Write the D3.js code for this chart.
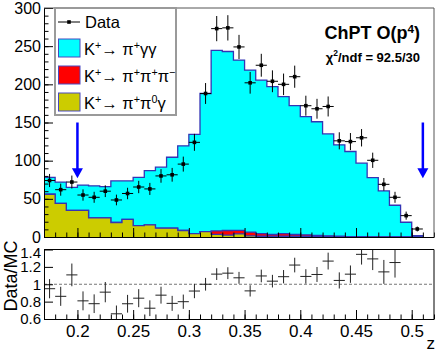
<!DOCTYPE html>
<html>
<head>
<meta charset="utf-8">
<script src="https://cdn.jsdelivr.net/npm/d3@7"></script>
<style>
body { margin: 0; background: #fff; }
svg { display: block; font-family: "Liberation Sans", Arial, Helvetica, sans-serif; }
</style>
</head>
<body>
<svg id="chart" width="436" height="358"></svg>
<script>
// bin lower edges in z (bin width 0.01)
var zLow = [0.17, 0.18, 0.19, 0.20, 0.21, 0.22, 0.23, 0.24, 0.25, 0.26,
            0.27, 0.28, 0.29, 0.30, 0.31, 0.32, 0.33, 0.34, 0.35, 0.36,
            0.37, 0.38, 0.39, 0.40, 0.41, 0.42, 0.43, 0.44, 0.45, 0.46,
            0.47, 0.48, 0.49, 0.50];
var binW = 0.01;

// MC components (events per bin)
var mcGG = [22, 28, 30, 33, 42, 41, 54.5, 50.5, 63, 71,
            80, 93, 111, 130, 181, 236.6, 234.5, 223, 212.4, 201,
            193.5, 179.5, 168.5, 155, 149, 133.5, 119.7, 111.4, 96.2, 77.4,
            60, 41.4, 19.1, 1.7];
var mc3Pi = [0, 0, 0, 0, 0, 0, 0, 0, 0, 0,
             0, 0, 0, 0, 0, 4.4, 6, 4.8, 4.8, 3.4,
             2.5, 3.5, 2.5, 2, 1.5, 1, 0.5, 0.3, 0.2, 0.2,
             0.2, 0.1, 0.1, 0];
var mcPi0G = [56, 44, 35, 35, 25, 25, 19, 23, 15, 16,
              11.5, 11.5, 8.5, 4.5, 7, 3.5, 2.5, 4, 1.5, 1,
              1, 1, 1, 0.8, 0.5, 0.5, 0.5, 0.3, 0.3, 0.2,
              0.2, 0.1, 0.1, 0];

// data
var dataN = [74, 62, 72, 55, 52, 60, 48.5, 57, 65.5, 63,
             80, 81.5, 95.5, 124, 188, 273, 274, 249, 202, 225,
             204, 200, 210, 172, 168, 171, 126, 125, 130, 100.5,
             69, 52, 28, 10.5];
var dataErr = [8.6, 7.9, 8.5, 7.4, 7.2, 7.7, 7, 7.5, 8.1, 7.9,
               8.9, 9, 9.8, 11.1, 13.7, 16.5, 16.6, 15.8, 14.2, 15,
               14.3, 14.1, 14.5, 13.1, 13, 13.1, 11.2, 11.2, 11.4, 10,
               8.3, 7.2, 5.3, 3.2];

var cuts = [0.2, 0.51];
var zTicks = [0.2, 0.25, 0.3, 0.35, 0.4, 0.45, 0.5];
var yTopTicks = [0, 50, 100, 150, 200, 250, 300];
var ratioTicks = [0.6, 0.8, 1, 1.2, 1.4];

var svg = d3.select('#chart');

var x = d3.scaleLinear().domain([0.17, 0.52]).range([44, 434]),
    yTop = d3.scaleLinear().domain([0, 300]).range([237, 8]),
    yRat = d3.scaleLinear().domain([0.6, 1.4]).range([319, 249.5]);

var lineCol = '#3434b4';

// stacked sums
var sumLow = mcPi0G.slice(),
    sumMid = mcPi0G.map(function(v, i) { return v + mc3Pi[i]; }),
    sumAll = sumMid.map(function(v, i) { return v + mcGG[i]; });

function stepPoints(vals) {
    var pts = [[x(zLow[0]), yTop(0)]];
    vals.forEach(function(v, i) {
        pts.push([x(zLow[i]), yTop(v)], [x(zLow[i] + binW), yTop(v)]);
    });
    pts.push([x(zLow[zLow.length - 1] + binW), yTop(0)]);
    return pts;
}

var defs = svg.append('defs');
defs.append('clipPath').attr('id', 'clipTop')
    .append('rect').attr('x', 44).attr('y', 8).attr('width', 390).attr('height', 229);
defs.append('clipPath').attr('id', 'clipRat')
    .append('rect').attr('x', 44).attr('y', 249.5).attr('width', 390).attr('height', 69.5);

// ---------- top pad ----------
var gTop = svg.append('g').attr('clip-path', 'url(#clipTop)');
var line = d3.line();

[[sumAll, '#00ffff'], [sumMid, '#ff0000'], [sumLow, '#cccc00']].forEach(function(h) {
    var pts = stepPoints(h[0]);
    gTop.append('path')
        .attr('d', line(pts) + 'Z')
        .attr('fill', h[1])
        .attr('stroke', 'none');
    gTop.append('path')
        .attr('d', line(pts))
        .attr('fill', 'none')
        .attr('stroke', lineCol)
        .attr('stroke-width', 1.3);
});

// data points
var gData = gTop.append('g').attr('class', 'data');
dataN.forEach(function(v, i) {
    var xc = x(zLow[i] + binW / 2);
    gData.append('line')
        .attr('x1', xc).attr('x2', xc)
        .attr('y1', yTop(v - dataErr[i])).attr('y2', yTop(v + dataErr[i]))
        .attr('stroke', '#000').attr('stroke-width', 1);
    gData.append('line')
        .attr('x1', x(zLow[i])).attr('x2', x(zLow[i] + binW))
        .attr('y1', yTop(v)).attr('y2', yTop(v))
        .attr('stroke', '#000').attr('stroke-width', 1);
    gData.append('rect')
        .attr('x', xc - 1.8).attr('y', yTop(v) - 1.8)
        .attr('width', 3.6).attr('height', 3.6)
        .attr('fill', '#000');
});

// cut arrows
cuts.forEach(function(c) {
    var xc = x(c), y0 = yTop(150), y1 = yTop(77);
    svg.append('line')
        .attr('x1', xc).attr('x2', xc)
        .attr('y1', y0).attr('y2', y1 - 8)
        .attr('stroke', '#0000ff').attr('stroke-width', 2.5);
    svg.append('path')
        .attr('d', 'M' + (xc - 5.5) + ',' + (y1 - 10) + 'L' + (xc + 5.5) + ',' + (y1 - 10) + 'L' + xc + ',' + y1 + 'Z')
        .attr('fill', '#0000ff');
});

function styleAxis(g, size) {
    g.attr('font-family', null).attr('font-size', size);
    g.selectAll('text').attr('fill', '#000');
    g.selectAll('line').attr('stroke', '#000');
}

// top axes
var gx = svg.append('g').attr('transform', 'translate(0,237)')
    .call(d3.axisBottom(x).tickValues(zTicks).tickSize(-9).tickSizeOuter(0).tickFormat(''));
gx.select('.domain').attr('stroke', '#000');
svg.append('g').attr('transform', 'translate(0,237)')
    .call(d3.axisBottom(x).ticks(35).tickSize(-4.5).tickFormat(''))
    .select('.domain').remove();

var gy = svg.append('g').attr('transform', 'translate(44,0)')
    .call(d3.axisLeft(yTop).tickValues(yTopTicks).tickSize(-9).tickSizeOuter(0).tickPadding(3));
styleAxis(gy, 16);
svg.append('g').attr('transform', 'translate(44,0)')
    .call(d3.axisLeft(yTop).ticks(30).tickSize(-4.5).tickFormat(''))
    .select('.domain').remove();

// frame top/right
svg.append('path')
    .attr('d', 'M44,8H434V237')
    .attr('fill', 'none').attr('stroke', '#555').attr('stroke-width', 1);

// legend
var leg = svg.append('g');
leg.append('rect')
    .attr('x', 55).attr('y', 8).attr('width', 121).attr('height', 107)
    .attr('fill', '#fff').attr('stroke', '#9a9a9a').attr('stroke-width', 2);

// text with superscripts: parts = [[text, isSup], ...]
function richText(g, parts, size) {
    var shift = 0;
    parts.forEach(function(p) {
        var ts = g.append('tspan');
        if (p[1]) {
            ts.attr('dy', -6 - shift).attr('font-size', size * 0.65);
            shift = -6;
        } else {
            ts.attr('dy', -shift).attr('font-size', size);
            shift = 0;
        }
        ts.text(p[0]);
    });
}

leg.append('line').attr('x1', 58).attr('x2', 80).attr('y1', 22).attr('y2', 22)
    .attr('stroke', '#000').attr('stroke-width', 1);
leg.append('rect').attr('x', 67.2).attr('y', 20.2).attr('width', 3.6).attr('height', 3.6).attr('fill', '#000');
leg.append('text').attr('x', 85).attr('y', 27.5).attr('font-size', 16.5).text('Data');

var legEntries = [
    {fill: '#00ffff', y: 48, label: [['K'], ['+', 1], ['\u2192 \u03c0'], ['+', 1], ['\u03b3\u03b3']]},
    {fill: '#ff0000', y: 75, label: [['K'], ['+', 1], ['\u2192 \u03c0'], ['+', 1], ['\u03c0'], ['+', 1], ['\u03c0'], ['\u2212', 1]]},
    {fill: '#cccc00', y: 102, label: [['K'], ['+', 1], ['\u2192 \u03c0'], ['+', 1], ['\u03c0'], ['0', 1], ['\u03b3']]}
];
legEntries.forEach(function(e) {
    leg.append('rect')
        .attr('x', 58.5).attr('y', e.y - 9).attr('width', 21.5).attr('height', 18)
        .attr('fill', e.fill).attr('stroke', '#4848c0').attr('stroke-width', 1);
    var t = leg.append('text').attr('x', 84).attr('y', e.y + 6.5);
    richText(t, e.label, 16.5);
});

// model label
var t1 = svg.append('text').attr('x', 420).attr('y', 39).attr('text-anchor', 'end')
    .attr('font-weight', 'bold');
richText(t1, [['ChPT O(p'], ['4', 1], [')']], 18);
var t2 = svg.append('text').attr('x', 420).attr('y', 62).attr('text-anchor', 'end')
    .attr('font-weight', 'bold');
richText(t2, [['\u03c7'], ['2', 1], ['/ndf = 92.5/30']], 13);

// ---------- ratio pad ----------
var gRat = svg.append('g').attr('clip-path', 'url(#clipRat)');
gRat.append('line')
    .attr('x1', 44).attr('x2', 434).attr('y1', yRat(1)).attr('y2', yRat(1))
    .attr('stroke', '#777').attr('stroke-width', 1).attr('stroke-dasharray', '3,2');

dataN.forEach(function(v, i) {
    var r = v / sumAll[i], e = dataErr[i] / sumAll[i];
    if (r < 0.6 || r > 1.4) return;
    var xc = x(zLow[i] + binW / 2);
    gRat.append('line')
        .attr('x1', xc).attr('x2', xc)
        .attr('y1', yRat(r - e)).attr('y2', yRat(r + e))
        .attr('stroke', '#222').attr('stroke-width', 1);
    gRat.append('line')
        .attr('x1', x(zLow[i])).attr('x2', x(zLow[i] + binW))
        .attr('y1', yRat(r)).attr('y2', yRat(r))
        .attr('stroke', '#222').attr('stroke-width', 1);
});

var gxr = svg.append('g').attr('transform', 'translate(0,319)')
    .call(d3.axisBottom(x).tickValues(zTicks).tickSize(-9).tickSizeOuter(0)
        .tickPadding(4).tickFormat(d3.format('~g')));
styleAxis(gxr, 17);
gxr.selectAll('text').attr('y', 18).attr('dy', null);
svg.append('g').attr('transform', 'translate(0,319)')
    .call(d3.axisBottom(x).ticks(35).tickSize(-4.5).tickFormat(''))
    .select('.domain').remove();

var gyr = svg.append('g').attr('transform', 'translate(44,0)')
    .call(d3.axisLeft(yRat).tickValues(ratioTicks).tickSize(-9).tickSizeOuter(0)
        .tickPadding(3).tickFormat(d3.format('~g')));
styleAxis(gyr, 15);
// top ratio label sits just inside the pad
gyr.selectAll('.tick').filter(function(d) { return d === 1.4; })
    .select('text').attr('y', 3);

svg.append('path')
    .attr('d', 'M44,249.5H434V319')
    .attr('fill', 'none').attr('stroke', '#000').attr('stroke-width', 1);

svg.append('text')
    .attr('transform', 'translate(17,276) rotate(-90)')
    .attr('text-anchor', 'middle').attr('font-size', 18)
    .text('Data/MC');

svg.append('text')
    .attr('x', 435).attr('y', 349).attr('text-anchor', 'end').attr('font-size', 17)
    .text('z');
</script>
</body>
</html>
